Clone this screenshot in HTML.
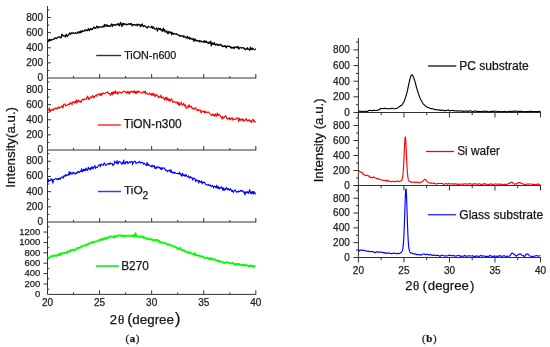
<!DOCTYPE html>
<html><head><meta charset="utf-8"><style>
html,body{margin:0;padding:0;background:#fff;}
svg{display:block;font-family:"Liberation Sans", sans-serif;filter:blur(0.3px);}
text{stroke:#222;stroke-width:0.25px;}
</style></head><body>
<svg width="550" height="347" viewBox="0 0 550 347">
<rect width="550" height="347" fill="#fff"/>
<line x1="47.5" y1="6.0" x2="47.5" y2="294.4" stroke="#333" stroke-width="1"/>
<line x1="47.5" y1="78.0" x2="256.3" y2="78.0" stroke="#333" stroke-width="1"/>
<line x1="73.54" y1="78.0" x2="73.54" y2="76" stroke="#333" stroke-width="1"/>
<line x1="99.58" y1="78.0" x2="99.58" y2="74" stroke="#333" stroke-width="1"/>
<line x1="125.61" y1="78.0" x2="125.61" y2="76" stroke="#333" stroke-width="1"/>
<line x1="151.65" y1="78.0" x2="151.65" y2="74" stroke="#333" stroke-width="1"/>
<line x1="177.69" y1="78.0" x2="177.69" y2="76" stroke="#333" stroke-width="1"/>
<line x1="203.72" y1="78.0" x2="203.72" y2="74" stroke="#333" stroke-width="1"/>
<line x1="229.76" y1="78.0" x2="229.76" y2="76" stroke="#333" stroke-width="1"/>
<line x1="255.8" y1="78.0" x2="255.8" y2="74" stroke="#333" stroke-width="1"/>
<line x1="47.5" y1="70.44" x2="49.3" y2="70.44" stroke="#333" stroke-width="1"/>
<line x1="47.5" y1="62.88" x2="50.9" y2="62.88" stroke="#333" stroke-width="1"/>
<line x1="47.5" y1="55.32" x2="49.3" y2="55.32" stroke="#333" stroke-width="1"/>
<line x1="47.5" y1="47.76" x2="50.9" y2="47.76" stroke="#333" stroke-width="1"/>
<line x1="47.5" y1="40.2" x2="49.3" y2="40.2" stroke="#333" stroke-width="1"/>
<line x1="47.5" y1="32.64" x2="50.9" y2="32.64" stroke="#333" stroke-width="1"/>
<line x1="47.5" y1="25.08" x2="49.3" y2="25.08" stroke="#333" stroke-width="1"/>
<line x1="47.5" y1="17.52" x2="50.9" y2="17.52" stroke="#333" stroke-width="1"/>
<line x1="47.5" y1="9.96" x2="49.3" y2="9.96" stroke="#333" stroke-width="1"/>
<text x="43" y="81" font-size="10" text-anchor="end" fill="#222">0</text>
<text x="43" y="65.88" font-size="10" text-anchor="end" fill="#222">200</text>
<text x="43" y="50.76" font-size="10" text-anchor="end" fill="#222">400</text>
<text x="43" y="35.64" font-size="10" text-anchor="end" fill="#222">600</text>
<text x="43" y="20.52" font-size="10" text-anchor="end" fill="#222">800</text>
<line x1="47.5" y1="150.0" x2="256.3" y2="150.0" stroke="#333" stroke-width="1"/>
<line x1="73.54" y1="150.0" x2="73.54" y2="148" stroke="#333" stroke-width="1"/>
<line x1="99.58" y1="150.0" x2="99.58" y2="146" stroke="#333" stroke-width="1"/>
<line x1="125.61" y1="150.0" x2="125.61" y2="148" stroke="#333" stroke-width="1"/>
<line x1="151.65" y1="150.0" x2="151.65" y2="146" stroke="#333" stroke-width="1"/>
<line x1="177.69" y1="150.0" x2="177.69" y2="148" stroke="#333" stroke-width="1"/>
<line x1="203.72" y1="150.0" x2="203.72" y2="146" stroke="#333" stroke-width="1"/>
<line x1="229.76" y1="150.0" x2="229.76" y2="148" stroke="#333" stroke-width="1"/>
<line x1="255.8" y1="150.0" x2="255.8" y2="146" stroke="#333" stroke-width="1"/>
<line x1="47.5" y1="142.44" x2="49.3" y2="142.44" stroke="#333" stroke-width="1"/>
<line x1="47.5" y1="134.88" x2="50.9" y2="134.88" stroke="#333" stroke-width="1"/>
<line x1="47.5" y1="127.32" x2="49.3" y2="127.32" stroke="#333" stroke-width="1"/>
<line x1="47.5" y1="119.76" x2="50.9" y2="119.76" stroke="#333" stroke-width="1"/>
<line x1="47.5" y1="112.2" x2="49.3" y2="112.2" stroke="#333" stroke-width="1"/>
<line x1="47.5" y1="104.64" x2="50.9" y2="104.64" stroke="#333" stroke-width="1"/>
<line x1="47.5" y1="97.08" x2="49.3" y2="97.08" stroke="#333" stroke-width="1"/>
<line x1="47.5" y1="89.52" x2="50.9" y2="89.52" stroke="#333" stroke-width="1"/>
<line x1="47.5" y1="81.96" x2="49.3" y2="81.96" stroke="#333" stroke-width="1"/>
<text x="43" y="153" font-size="10" text-anchor="end" fill="#222">0</text>
<text x="43" y="137.88" font-size="10" text-anchor="end" fill="#222">200</text>
<text x="43" y="122.76" font-size="10" text-anchor="end" fill="#222">400</text>
<text x="43" y="107.64" font-size="10" text-anchor="end" fill="#222">600</text>
<text x="43" y="92.52" font-size="10" text-anchor="end" fill="#222">800</text>
<line x1="47.5" y1="222.0" x2="256.3" y2="222.0" stroke="#333" stroke-width="1"/>
<line x1="73.54" y1="222.0" x2="73.54" y2="220" stroke="#333" stroke-width="1"/>
<line x1="99.58" y1="222.0" x2="99.58" y2="218" stroke="#333" stroke-width="1"/>
<line x1="125.61" y1="222.0" x2="125.61" y2="220" stroke="#333" stroke-width="1"/>
<line x1="151.65" y1="222.0" x2="151.65" y2="218" stroke="#333" stroke-width="1"/>
<line x1="177.69" y1="222.0" x2="177.69" y2="220" stroke="#333" stroke-width="1"/>
<line x1="203.72" y1="222.0" x2="203.72" y2="218" stroke="#333" stroke-width="1"/>
<line x1="229.76" y1="222.0" x2="229.76" y2="220" stroke="#333" stroke-width="1"/>
<line x1="255.8" y1="222.0" x2="255.8" y2="218" stroke="#333" stroke-width="1"/>
<line x1="47.5" y1="214.41" x2="49.3" y2="214.41" stroke="#333" stroke-width="1"/>
<line x1="47.5" y1="206.82" x2="50.9" y2="206.82" stroke="#333" stroke-width="1"/>
<line x1="47.5" y1="199.23" x2="49.3" y2="199.23" stroke="#333" stroke-width="1"/>
<line x1="47.5" y1="191.64" x2="50.9" y2="191.64" stroke="#333" stroke-width="1"/>
<line x1="47.5" y1="184.05" x2="49.3" y2="184.05" stroke="#333" stroke-width="1"/>
<line x1="47.5" y1="176.46" x2="50.9" y2="176.46" stroke="#333" stroke-width="1"/>
<line x1="47.5" y1="168.87" x2="49.3" y2="168.87" stroke="#333" stroke-width="1"/>
<line x1="47.5" y1="161.28" x2="50.9" y2="161.28" stroke="#333" stroke-width="1"/>
<line x1="47.5" y1="153.69" x2="49.3" y2="153.69" stroke="#333" stroke-width="1"/>
<text x="43" y="225" font-size="10" text-anchor="end" fill="#222">0</text>
<text x="43" y="209.82" font-size="10" text-anchor="end" fill="#222">200</text>
<text x="43" y="194.64" font-size="10" text-anchor="end" fill="#222">400</text>
<text x="43" y="179.46" font-size="10" text-anchor="end" fill="#222">600</text>
<text x="43" y="164.28" font-size="10" text-anchor="end" fill="#222">800</text>
<line x1="47.5" y1="294.4" x2="256.3" y2="294.4" stroke="#333" stroke-width="1"/>
<line x1="73.54" y1="294.4" x2="73.54" y2="292.4" stroke="#333" stroke-width="1"/>
<line x1="99.58" y1="294.4" x2="99.58" y2="290.4" stroke="#333" stroke-width="1"/>
<line x1="125.61" y1="294.4" x2="125.61" y2="292.4" stroke="#333" stroke-width="1"/>
<line x1="151.65" y1="294.4" x2="151.65" y2="290.4" stroke="#333" stroke-width="1"/>
<line x1="177.69" y1="294.4" x2="177.69" y2="292.4" stroke="#333" stroke-width="1"/>
<line x1="203.72" y1="294.4" x2="203.72" y2="290.4" stroke="#333" stroke-width="1"/>
<line x1="229.76" y1="294.4" x2="229.76" y2="292.4" stroke="#333" stroke-width="1"/>
<line x1="255.8" y1="294.4" x2="255.8" y2="290.4" stroke="#333" stroke-width="1"/>
<line x1="47.5" y1="289.2" x2="49.3" y2="289.2" stroke="#333" stroke-width="1"/>
<line x1="43.5" y1="284.01" x2="47.5" y2="284.01" stroke="#333" stroke-width="1"/>
<line x1="47.5" y1="278.81" x2="49.3" y2="278.81" stroke="#333" stroke-width="1"/>
<line x1="43.5" y1="273.62" x2="47.5" y2="273.62" stroke="#333" stroke-width="1"/>
<line x1="47.5" y1="268.42" x2="49.3" y2="268.42" stroke="#333" stroke-width="1"/>
<line x1="43.5" y1="263.22" x2="47.5" y2="263.22" stroke="#333" stroke-width="1"/>
<line x1="47.5" y1="258.03" x2="49.3" y2="258.03" stroke="#333" stroke-width="1"/>
<line x1="43.5" y1="252.83" x2="47.5" y2="252.83" stroke="#333" stroke-width="1"/>
<line x1="47.5" y1="247.64" x2="49.3" y2="247.64" stroke="#333" stroke-width="1"/>
<line x1="43.5" y1="242.44" x2="47.5" y2="242.44" stroke="#333" stroke-width="1"/>
<line x1="47.5" y1="237.24" x2="49.3" y2="237.24" stroke="#333" stroke-width="1"/>
<line x1="43.5" y1="232.05" x2="47.5" y2="232.05" stroke="#333" stroke-width="1"/>
<line x1="47.5" y1="226.85" x2="49.3" y2="226.85" stroke="#333" stroke-width="1"/>
<text x="40.4" y="297.2" font-size="9.5" text-anchor="end" fill="#222">0</text>
<text x="40.4" y="286.81" font-size="9.5" text-anchor="end" fill="#222">200</text>
<text x="40.4" y="276.42" font-size="9.5" text-anchor="end" fill="#222">400</text>
<text x="40.4" y="266.02" font-size="9.5" text-anchor="end" fill="#222">600</text>
<text x="40.4" y="255.63" font-size="9.5" text-anchor="end" fill="#222">800</text>
<text x="40.4" y="245.24" font-size="9.5" text-anchor="end" fill="#222">1000</text>
<text x="40.4" y="234.85" font-size="9.5" text-anchor="end" fill="#222">1200</text>
<text x="47.5" y="306" font-size="10" text-anchor="middle" fill="#222">20</text>
<text x="99.58" y="306" font-size="10" text-anchor="middle" fill="#222">25</text>
<text x="151.65" y="306" font-size="10" text-anchor="middle" fill="#222">30</text>
<text x="203.72" y="306" font-size="10" text-anchor="middle" fill="#222">35</text>
<text x="255.8" y="306" font-size="10" text-anchor="middle" fill="#222">40</text>
<polyline fill="none" stroke="#000" stroke-width="1.2" stroke-linejoin="round" points="47.50,41.28 48.10,41.48 48.70,40.85 49.30,39.26 49.90,40.94 50.50,40.34 51.10,39.31 51.70,40.06 52.30,39.68 52.90,39.43 53.50,39.02 54.10,39.27 54.70,38.00 55.30,38.30 55.90,37.85 56.50,38.60 57.10,37.95 57.70,37.49 58.30,36.90 58.90,37.17 59.50,37.22 60.10,36.80 60.70,37.95 61.30,37.52 61.90,34.18 62.50,34.69 63.10,35.96 63.70,35.57 64.30,35.92 64.90,35.74 65.50,37.18 66.10,34.25 66.70,34.71 67.30,36.59 67.90,35.24 68.50,35.10 69.10,33.94 69.70,32.83 70.30,34.23 70.90,34.04 71.50,32.77 72.10,33.11 72.70,33.50 73.30,32.63 73.90,33.23 74.50,33.27 75.10,33.10 75.70,32.52 76.30,33.33 76.90,33.46 77.50,32.85 78.10,31.75 78.70,32.94 79.30,31.77 79.90,32.81 80.50,31.02 81.10,32.58 81.70,31.64 82.30,30.46 82.90,31.11 83.50,31.28 84.10,31.32 84.70,30.10 85.30,29.83 85.90,30.78 86.50,30.05 87.10,30.47 87.70,30.74 88.30,28.51 88.90,29.95 89.50,30.59 90.10,29.11 90.70,28.49 91.30,29.64 91.90,29.03 92.50,29.40 93.10,28.17 93.70,27.04 94.30,28.04 94.90,27.60 95.50,28.48 96.10,27.84 96.70,26.15 97.30,26.38 97.90,28.02 98.50,27.72 99.10,26.48 99.70,26.91 100.30,27.18 100.90,27.10 101.50,27.34 102.10,26.72 102.70,26.34 103.30,26.11 103.90,27.15 104.50,24.26 105.10,25.97 105.70,26.04 106.30,24.73 106.90,26.15 107.50,25.24 108.10,26.45 108.70,25.54 109.30,26.14 109.90,26.53 110.50,25.74 111.10,24.60 111.70,23.97 112.30,26.67 112.90,25.01 113.50,24.44 114.10,25.07 114.70,24.71 115.30,25.53 115.90,24.77 116.50,24.69 117.10,24.01 117.70,24.97 118.30,23.66 118.90,25.07 119.50,25.77 120.10,23.16 120.70,22.34 121.30,24.95 121.90,26.59 122.50,23.57 123.10,23.36 123.70,24.92 124.30,23.71 124.90,24.00 125.50,24.14 126.10,24.90 126.70,24.11 127.30,24.70 127.90,24.33 128.50,23.77 129.10,24.23 129.70,23.71 130.30,24.55 130.90,23.61 131.50,23.67 132.10,25.87 132.70,24.62 133.30,24.67 133.90,25.19 134.50,24.45 135.10,24.67 135.70,25.29 136.30,25.23 136.90,24.07 137.50,25.83 138.10,24.68 138.70,24.36 139.30,24.57 139.90,25.08 140.50,26.87 141.10,24.57 141.70,25.79 142.30,23.92 142.90,25.83 143.50,26.69 144.10,25.82 144.70,25.59 145.30,26.42 145.90,26.93 146.50,27.00 147.10,28.23 147.70,26.84 148.30,26.28 148.90,26.79 149.50,26.96 150.10,27.23 150.70,27.24 151.30,27.54 151.90,26.10 152.50,28.36 153.10,27.30 153.70,26.93 154.30,28.60 154.90,29.33 155.50,28.77 156.10,28.64 156.70,27.86 157.30,31.24 157.90,29.71 158.50,28.15 159.10,28.62 159.70,29.52 160.30,28.30 160.90,29.94 161.50,29.58 162.10,31.19 162.70,31.15 163.30,28.21 163.90,30.74 164.50,29.53 165.10,32.04 165.70,31.43 166.30,31.95 166.90,30.78 167.50,33.43 168.10,33.79 168.70,31.36 169.30,32.78 169.90,32.08 170.50,32.83 171.10,31.96 171.70,34.82 172.30,32.60 172.90,33.36 173.50,34.22 174.10,33.43 174.70,33.97 175.30,33.88 175.90,34.43 176.50,33.73 177.10,34.54 177.70,34.92 178.30,35.00 178.90,35.51 179.50,35.39 180.10,36.46 180.70,35.73 181.30,36.07 181.90,35.79 182.50,36.09 183.10,35.64 183.70,37.33 184.30,36.09 184.90,36.61 185.50,37.72 186.10,37.93 186.70,37.42 187.30,36.22 187.90,38.46 188.50,38.50 189.10,37.25 189.70,39.27 190.30,38.19 190.90,38.01 191.50,39.22 192.10,39.15 192.70,39.65 193.30,38.28 193.90,41.36 194.50,39.47 195.10,38.84 195.70,40.84 196.30,40.17 196.90,40.90 197.50,40.49 198.10,40.87 198.70,41.27 199.30,40.56 199.90,41.90 200.50,41.04 201.10,40.82 201.70,41.73 202.30,42.15 202.90,41.68 203.50,41.24 204.10,42.59 204.70,40.67 205.30,41.38 205.90,42.38 206.50,41.29 207.10,42.56 207.70,42.59 208.30,43.51 208.90,42.07 209.50,42.43 210.10,43.36 210.70,41.11 211.30,45.96 211.90,42.87 212.50,42.98 213.10,44.47 213.70,43.85 214.30,42.52 214.90,44.72 215.50,45.06 216.10,44.10 216.70,44.38 217.30,45.18 217.90,44.13 218.50,45.41 219.10,45.33 219.70,44.71 220.30,44.22 220.90,45.33 221.50,44.88 222.10,46.58 222.70,45.96 223.30,46.60 223.90,46.14 224.50,46.34 225.10,45.54 225.70,46.86 226.30,47.90 226.90,46.20 227.50,46.05 228.10,46.50 228.70,46.31 229.30,46.21 229.90,47.01 230.50,46.72 231.10,48.28 231.70,47.14 232.30,47.50 232.90,48.11 233.50,47.13 234.10,48.69 234.70,47.01 235.30,46.94 235.90,47.39 236.50,47.68 237.10,46.66 237.70,47.90 238.30,46.58 238.90,49.24 239.50,48.06 240.10,47.64 240.70,47.48 241.30,47.98 241.90,48.17 242.50,47.53 243.10,47.69 243.70,48.36 244.30,48.13 244.90,49.42 245.50,49.63 246.10,48.72 246.70,49.16 247.30,47.67 247.90,49.39 248.50,48.86 249.10,49.34 249.70,50.34 250.30,47.08 250.90,49.28 251.50,48.17 252.10,49.65 252.70,48.07 253.30,48.80 253.90,49.44 254.50,49.83 255.10,49.41 255.70,48.71"/>
<polyline fill="none" stroke="#f00" stroke-width="1.1" stroke-linejoin="round" points="47.50,110.77 48.10,109.98 48.70,109.98 49.30,107.93 49.90,111.84 50.50,111.08 51.10,109.55 51.70,110.44 52.30,109.82 52.90,108.87 53.50,110.16 54.10,108.78 54.70,108.59 55.30,107.98 55.90,109.00 56.50,108.30 57.10,108.73 57.70,107.45 58.30,107.96 58.90,106.80 59.50,108.24 60.10,107.41 60.70,107.32 61.30,107.17 61.90,105.58 62.50,107.05 63.10,108.01 63.70,104.27 64.30,103.94 64.90,103.93 65.50,105.94 66.10,105.05 66.70,105.75 67.30,105.21 67.90,104.53 68.50,104.41 69.10,103.78 69.70,104.58 70.30,102.49 70.90,102.97 71.50,103.41 72.10,104.69 72.70,102.06 73.30,101.56 73.90,101.86 74.50,103.12 75.10,101.79 75.70,103.09 76.30,99.87 76.90,102.54 77.50,102.28 78.10,99.77 78.70,101.10 79.30,101.94 79.90,100.70 80.50,101.40 81.10,102.54 81.70,100.38 82.30,99.69 82.90,99.05 83.50,100.23 84.10,99.25 84.70,99.10 85.30,98.99 85.90,99.53 86.50,97.72 87.10,97.09 87.70,96.05 88.30,99.32 88.90,98.06 89.50,99.23 90.10,97.60 90.70,96.71 91.30,97.67 91.90,96.95 92.50,95.63 93.10,95.77 93.70,98.09 94.30,96.54 94.90,96.39 95.50,95.52 96.10,94.91 96.70,96.21 97.30,95.06 97.90,94.24 98.50,94.64 99.10,93.74 99.70,94.61 100.30,95.36 100.90,93.35 101.50,95.38 102.10,93.28 102.70,93.96 103.30,92.92 103.90,93.42 104.50,93.60 105.10,93.06 105.70,92.74 106.30,92.70 106.90,92.50 107.50,91.73 108.10,92.92 108.70,93.50 109.30,93.94 109.90,93.64 110.50,95.32 111.10,93.25 111.70,92.48 112.30,94.65 112.90,91.84 113.50,93.73 114.10,91.87 114.70,93.08 115.30,90.85 115.90,93.54 116.50,92.51 117.10,91.71 117.70,94.20 118.30,93.30 118.90,92.59 119.50,91.80 120.10,92.44 120.70,92.29 121.30,93.10 121.90,93.14 122.50,91.71 123.10,91.79 123.70,91.77 124.30,90.96 124.90,91.65 125.50,92.09 126.10,92.80 126.70,93.37 127.30,91.33 127.90,92.60 128.50,91.64 129.10,94.02 129.70,91.99 130.30,92.51 130.90,91.14 131.50,91.26 132.10,92.22 132.70,91.67 133.30,92.37 133.90,90.56 134.50,92.69 135.10,91.21 135.70,93.72 136.30,91.82 136.90,93.16 137.50,90.81 138.10,92.57 138.70,91.35 139.30,91.76 139.90,92.29 140.50,92.01 141.10,92.61 141.70,93.14 142.30,93.12 142.90,92.50 143.50,91.37 144.10,92.00 144.70,92.69 145.30,90.97 145.90,93.82 146.50,93.00 147.10,93.12 147.70,94.39 148.30,94.26 148.90,93.97 149.50,92.95 150.10,94.34 150.70,94.52 151.30,93.50 151.90,95.48 152.50,95.13 153.10,92.93 153.70,95.07 154.30,93.91 154.90,96.36 155.50,96.21 156.10,94.56 156.70,94.93 157.30,96.03 157.90,95.87 158.50,97.72 159.10,97.14 159.70,96.34 160.30,97.33 160.90,95.03 161.50,97.43 162.10,98.14 162.70,97.33 163.30,97.02 163.90,98.42 164.50,99.94 165.10,98.48 165.70,97.42 166.30,100.07 166.90,97.13 167.50,99.61 168.10,98.80 168.70,100.46 169.30,99.00 169.90,101.30 170.50,100.56 171.10,98.86 171.70,98.86 172.30,100.66 172.90,102.42 173.50,101.53 174.10,101.70 174.70,101.63 175.30,102.77 175.90,102.64 176.50,102.75 177.10,101.75 177.70,104.02 178.30,104.39 178.90,102.05 179.50,105.67 180.10,104.37 180.70,103.42 181.30,102.27 181.90,104.90 182.50,105.00 183.10,104.11 183.70,103.18 184.30,106.16 184.90,104.74 185.50,105.06 186.10,108.43 186.70,107.97 187.30,107.07 187.90,105.96 188.50,107.23 189.10,104.68 189.70,107.18 190.30,106.58 190.90,106.31 191.50,106.26 192.10,108.49 192.70,108.31 193.30,108.60 193.90,109.48 194.50,108.10 195.10,107.96 195.70,107.67 196.30,109.26 196.90,110.52 197.50,109.88 198.10,110.85 198.70,109.34 199.30,110.23 199.90,110.16 200.50,109.91 201.10,113.07 201.70,112.32 202.30,110.99 202.90,111.18 203.50,112.04 204.10,110.91 204.70,112.87 205.30,111.40 205.90,112.45 206.50,111.99 207.10,112.67 207.70,112.01 208.30,111.94 208.90,112.66 209.50,113.08 210.10,113.59 210.70,114.07 211.30,115.60 211.90,115.06 212.50,114.19 213.10,115.26 213.70,114.05 214.30,116.23 214.90,115.51 215.50,113.85 216.10,116.00 216.70,116.20 217.30,113.02 217.90,115.01 218.50,115.42 219.10,114.19 219.70,115.15 220.30,115.41 220.90,116.94 221.50,116.88 222.10,119.23 222.70,116.50 223.30,118.10 223.90,117.21 224.50,117.52 225.10,116.29 225.70,115.70 226.30,116.90 226.90,118.47 227.50,119.37 228.10,118.55 228.70,118.56 229.30,117.39 229.90,119.75 230.50,119.67 231.10,117.99 231.70,118.55 232.30,117.74 232.90,120.17 233.50,119.25 234.10,118.86 234.70,119.42 235.30,119.54 235.90,118.81 236.50,118.10 237.10,118.13 237.70,117.77 238.30,119.93 238.90,121.67 239.50,118.02 240.10,119.83 240.70,120.15 241.30,118.89 241.90,120.08 242.50,118.91 243.10,121.15 243.70,119.50 244.30,120.22 244.90,120.83 245.50,119.83 246.10,118.59 246.70,119.85 247.30,121.13 247.90,120.38 248.50,120.73 249.10,119.54 249.70,120.75 250.30,121.35 250.90,120.75 251.50,122.57 252.10,120.61 252.70,119.87 253.30,119.37 253.90,122.04 254.50,120.94 255.10,122.00 255.70,121.52"/>
<polyline fill="none" stroke="#00f" stroke-width="1.1" stroke-linejoin="round" points="47.50,183.43 48.10,178.91 48.70,181.58 49.30,180.49 49.90,180.44 50.50,180.51 51.10,178.65 51.70,180.20 52.30,179.45 52.90,183.28 53.50,180.20 54.10,179.51 54.70,179.43 55.30,178.93 55.90,178.41 56.50,178.90 57.10,179.56 57.70,178.70 58.30,179.65 58.90,178.33 59.50,178.30 60.10,179.48 60.70,178.24 61.30,176.93 61.90,176.93 62.50,177.30 63.10,178.31 63.70,175.91 64.30,175.65 64.90,176.57 65.50,174.53 66.10,174.86 66.70,175.77 67.30,175.28 67.90,174.63 68.50,175.01 69.10,171.52 69.70,175.02 70.30,172.99 70.90,172.17 71.50,173.88 72.10,174.15 72.70,172.94 73.30,172.21 73.90,173.13 74.50,172.92 75.10,174.18 75.70,173.42 76.30,172.76 76.90,173.49 77.50,172.09 78.10,171.26 78.70,172.55 79.30,172.40 79.90,171.49 80.50,170.79 81.10,171.59 81.70,168.84 82.30,171.70 82.90,171.34 83.50,169.15 84.10,170.59 84.70,169.44 85.30,170.90 85.90,168.06 86.50,168.94 87.10,170.29 87.70,170.53 88.30,167.18 88.90,168.56 89.50,169.15 90.10,168.06 90.70,169.95 91.30,167.10 91.90,168.37 92.50,166.84 93.10,168.97 93.70,167.42 94.30,166.89 94.90,165.42 95.50,168.46 96.10,167.39 96.70,167.20 97.30,167.39 97.90,166.46 98.50,165.35 99.10,165.04 99.70,164.88 100.30,166.79 100.90,163.95 101.50,164.63 102.10,164.75 102.70,165.14 103.30,165.34 103.90,163.49 104.50,162.91 105.10,164.43 105.70,165.48 106.30,164.94 106.90,164.32 107.50,163.71 108.10,164.19 108.70,163.58 109.30,164.50 109.90,162.88 110.50,163.67 111.10,163.35 111.70,163.89 112.30,163.50 112.90,165.63 113.50,164.56 114.10,164.48 114.70,161.05 115.30,162.59 115.90,162.27 116.50,163.30 117.10,160.57 117.70,163.80 118.30,163.65 118.90,161.36 119.50,161.63 120.10,161.77 120.70,162.54 121.30,163.09 121.90,164.40 122.50,162.25 123.10,163.14 123.70,160.05 124.30,164.06 124.90,163.08 125.50,163.66 126.10,161.32 126.70,162.16 127.30,161.56 127.90,163.76 128.50,162.95 129.10,162.03 129.70,161.89 130.30,162.78 130.90,161.66 131.50,161.45 132.10,161.30 132.70,164.70 133.30,162.14 133.90,161.87 134.50,161.30 135.10,161.17 135.70,162.97 136.30,163.31 136.90,162.54 137.50,162.89 138.10,162.72 138.70,162.79 139.30,161.26 139.90,162.34 140.50,162.95 141.10,162.18 141.70,162.56 142.30,162.33 142.90,162.91 143.50,164.15 144.10,163.09 144.70,163.47 145.30,164.53 145.90,164.52 146.50,165.67 147.10,162.23 147.70,165.19 148.30,164.08 148.90,164.82 149.50,165.65 150.10,166.04 150.70,166.16 151.30,165.48 151.90,167.01 152.50,165.37 153.10,165.67 153.70,166.72 154.30,165.60 154.90,168.34 155.50,167.42 156.10,168.69 156.70,166.76 157.30,166.59 157.90,167.29 158.50,168.00 159.10,166.92 159.70,168.02 160.30,167.82 160.90,169.55 161.50,167.57 162.10,169.38 162.70,167.97 163.30,167.86 163.90,168.30 164.50,168.04 165.10,169.52 165.70,170.57 166.30,169.97 166.90,170.62 167.50,171.81 168.10,170.74 168.70,170.90 169.30,170.69 169.90,169.65 170.50,172.13 171.10,169.97 171.70,172.49 172.30,172.08 172.90,173.38 173.50,172.46 174.10,171.95 174.70,173.27 175.30,172.59 175.90,173.14 176.50,173.53 177.10,173.54 177.70,173.66 178.30,173.21 178.90,173.99 179.50,172.30 180.10,174.34 180.70,173.51 181.30,175.87 181.90,176.17 182.50,173.27 183.10,175.43 183.70,175.34 184.30,174.64 184.90,176.32 185.50,175.56 186.10,174.50 186.70,176.12 187.30,176.43 187.90,176.87 188.50,175.80 189.10,177.76 189.70,178.08 190.30,176.50 190.90,177.18 191.50,177.94 192.10,177.70 192.70,180.12 193.30,178.88 193.90,177.95 194.50,178.39 195.10,179.31 195.70,181.78 196.30,179.66 196.90,180.19 197.50,180.79 198.10,180.51 198.70,182.96 199.30,180.53 199.90,181.98 200.50,181.67 201.10,182.35 201.70,180.88 202.30,183.92 202.90,182.36 203.50,182.73 204.10,182.04 204.70,182.46 205.30,183.91 205.90,184.52 206.50,184.51 207.10,185.16 207.70,184.89 208.30,184.44 208.90,185.41 209.50,185.37 210.10,184.91 210.70,185.88 211.30,186.60 211.90,185.79 212.50,185.41 213.10,186.61 213.70,187.91 214.30,186.08 214.90,186.36 215.50,186.48 216.10,187.94 216.70,185.20 217.30,187.45 217.90,188.39 218.50,186.64 219.10,188.98 219.70,188.23 220.30,187.35 220.90,188.21 221.50,186.71 222.10,187.77 222.70,190.19 223.30,187.75 223.90,190.50 224.50,188.81 225.10,189.98 225.70,189.22 226.30,187.19 226.90,188.92 227.50,189.79 228.10,188.66 228.70,188.62 229.30,190.39 229.90,189.56 230.50,188.70 231.10,189.79 231.70,191.38 232.30,190.23 232.90,191.69 233.50,192.36 234.10,191.03 234.70,190.02 235.30,189.95 235.90,191.24 236.50,192.18 237.10,191.67 237.70,192.00 238.30,191.12 238.90,191.89 239.50,191.21 240.10,191.41 240.70,190.54 241.30,190.32 241.90,191.41 242.50,190.86 243.10,191.05 243.70,192.64 244.30,191.94 244.90,194.85 245.50,193.01 246.10,191.57 246.70,192.95 247.30,192.58 247.90,191.63 248.50,193.37 249.10,191.62 249.70,189.48 250.30,193.18 250.90,191.87 251.50,193.90 252.10,191.90 252.70,191.43 253.30,194.05 253.90,191.59 254.50,192.83 255.10,194.05 255.70,192.81"/>
<polyline fill="none" stroke="#0f0" stroke-width="1.8" stroke-linejoin="round" points="47.50,257.50 48.30,257.48 49.10,258.07 49.90,257.38 50.70,256.11 51.50,256.61 52.30,256.10 53.10,256.22 53.90,255.20 54.70,255.81 55.50,255.59 56.30,255.97 57.10,255.19 57.90,255.06 58.70,253.95 59.50,255.42 60.30,253.33 61.10,254.47 61.90,253.61 62.70,253.14 63.50,253.01 64.30,252.77 65.10,253.00 65.90,252.54 66.70,253.00 67.50,251.25 68.30,251.80 69.10,251.13 69.90,251.60 70.70,250.02 71.50,250.53 72.30,250.49 73.10,249.43 73.90,250.24 74.70,249.57 75.50,249.63 76.30,249.30 77.10,248.11 77.90,247.87 78.70,247.81 79.50,247.91 80.30,247.62 81.10,246.59 81.90,246.31 82.70,245.89 83.50,245.66 84.30,245.49 85.10,245.21 85.90,245.88 86.70,244.41 87.50,244.19 88.30,244.21 89.10,243.26 89.90,243.22 90.70,243.08 91.50,243.13 92.30,241.89 93.10,242.81 93.90,241.75 94.70,241.71 95.50,241.75 96.30,241.40 97.10,241.32 97.90,240.67 98.70,240.33 99.50,240.24 100.30,239.41 101.10,240.16 101.90,239.04 102.70,238.59 103.50,239.85 104.30,238.64 105.10,237.95 105.90,239.09 106.70,237.90 107.50,238.32 108.30,237.27 109.10,237.35 109.90,236.53 110.70,236.27 111.50,236.54 112.30,236.81 113.10,237.07 113.90,237.68 114.70,236.01 115.50,236.83 116.30,236.01 117.10,236.12 117.90,235.44 118.70,235.37 119.50,235.62 120.30,235.37 121.10,235.85 121.90,235.48 122.70,236.32 123.50,235.78 124.30,235.75 125.10,236.15 125.90,235.84 126.70,235.57 127.50,235.53 128.30,235.50 129.10,236.04 129.90,235.91 130.70,235.75 131.50,235.98 132.30,235.42 133.10,235.95 133.90,235.16 134.70,236.48 135.50,233.21 136.30,236.16 137.10,236.45 137.90,236.30 138.70,236.31 139.50,237.08 140.30,236.73 141.10,236.41 141.90,237.16 142.70,236.35 143.50,238.02 144.30,237.37 145.10,237.65 145.90,238.82 146.70,238.96 147.50,238.24 148.30,238.67 149.10,239.08 149.90,239.55 150.70,238.94 151.50,239.27 152.30,239.98 153.10,239.77 153.90,240.22 154.70,240.38 155.50,239.83 156.30,240.19 157.10,239.63 157.90,240.94 158.70,241.91 159.50,241.05 160.30,242.36 161.10,242.50 161.90,242.28 162.70,242.55 163.50,242.85 164.30,242.68 165.10,243.21 165.90,243.58 166.70,244.14 167.50,244.50 168.30,244.09 169.10,245.08 169.90,244.65 170.70,245.22 171.50,245.76 172.30,245.89 173.10,246.16 173.90,246.65 174.70,246.60 175.50,246.88 176.30,247.41 177.10,248.26 177.90,248.10 178.70,249.33 179.50,248.88 180.30,247.77 181.10,249.22 181.90,250.48 182.70,250.05 183.50,250.16 184.30,250.27 185.10,251.56 185.90,251.72 186.70,251.87 187.50,252.06 188.30,252.82 189.10,252.83 189.90,252.20 190.70,253.39 191.50,253.41 192.30,253.57 193.10,254.25 193.90,254.20 194.70,253.14 195.50,255.44 196.30,255.47 197.10,255.21 197.90,255.35 198.70,255.87 199.50,255.43 200.30,256.38 201.10,256.37 201.90,256.53 202.70,256.49 203.50,256.80 204.30,257.81 205.10,258.11 205.90,257.93 206.70,257.88 207.50,257.70 208.30,258.62 209.10,259.21 209.90,257.96 210.70,259.42 211.50,258.11 212.30,259.14 213.10,259.67 213.90,259.08 214.70,259.22 215.50,260.19 216.30,260.70 217.10,260.28 217.90,261.30 218.70,260.53 219.50,261.86 220.30,261.30 221.10,261.53 221.90,261.88 222.70,261.92 223.50,262.78 224.30,263.10 225.10,262.52 225.90,262.36 226.70,262.06 227.50,262.40 228.30,262.89 229.10,262.98 229.90,263.14 230.70,263.30 231.50,263.65 232.30,262.94 233.10,263.21 233.90,264.30 234.70,264.29 235.50,263.78 236.30,264.71 237.10,263.93 237.90,264.22 238.70,263.61 239.50,264.90 240.30,264.61 241.10,265.18 241.90,265.10 242.70,264.90 243.50,265.00 244.30,265.54 245.10,265.00 245.90,265.08 246.70,265.25 247.50,265.65 248.30,265.78 249.10,266.30 249.90,265.47 250.70,266.15 251.50,265.37 252.30,266.01 253.10,265.88 253.90,266.68 254.70,266.26 255.50,265.86"/>
<line x1="96.2" y1="55.5" x2="121.2" y2="55.5" stroke="#333" stroke-width="1.4"/>
<text x="124.16" y="58.8" font-size="11" fill="#111" textLength="52.16" lengthAdjust="spacingAndGlyphs">TiON-n600</text>
<line x1="97.8" y1="125" x2="120.8" y2="125" stroke="#ff5c5c" stroke-width="1.9"/>
<text x="123.83" y="128.4" font-size="12" fill="#111" textLength="57.93" lengthAdjust="spacingAndGlyphs">TiON-n300</text>
<line x1="97.9" y1="191.5" x2="121" y2="191.5" stroke="#3a3aff" stroke-width="1.5"/>
<text x="123.94" y="194.4" font-size="11.7" fill="#111" textLength="18.82" lengthAdjust="spacingAndGlyphs">TiO</text>
<text x="142.58" y="199.3" font-size="10.3" fill="#111">2</text>
<line x1="95.8" y1="266.1" x2="118.8" y2="266.1" stroke="#33ee44" stroke-width="2"/>
<text x="121.23" y="269.8" font-size="12" fill="#111" textLength="27.63" lengthAdjust="spacingAndGlyphs">B270</text>
<text transform="translate(14.5,187.63) rotate(-90)" font-size="12.5" fill="#111" textLength="80.65" lengthAdjust="spacingAndGlyphs">Intensity(a.u.)</text>
<text x="109.85" y="323.8" font-size="13" fill="#111">2</text>
<text x="117.99" y="323.9" font-size="13" font-family="Liberation Serif" fill="#111">θ</text>
<text x="127.14" y="324.1" font-size="15.5" fill="#111">(</text>
<text x="132.34" y="324.0" font-size="13" fill="#111" textLength="41.66" lengthAdjust="spacingAndGlyphs">degree</text>
<text x="175.10" y="323.8" font-size="16.5" fill="#111">)</text>
<text x="125.6" y="342.3" font-size="10.8" font-family="Liberation Serif" fill="#111">(</text>
<text x="129.7" y="342.3" font-size="10.8" font-family="Liberation Serif" font-weight="bold" fill="#111">a</text>
<text x="135.7" y="342.3" font-size="10.8" font-family="Liberation Serif" fill="#111">)</text>
<line x1="358.4" y1="38.0" x2="358.4" y2="257.5" stroke="#333" stroke-width="1"/>
<line x1="358.4" y1="112.5" x2="541" y2="112.5" stroke="#333" stroke-width="1"/>
<line x1="358.4" y1="112.5" x2="358.4" y2="117.5" stroke="#333" stroke-width="1"/>
<line x1="381.16" y1="112.5" x2="381.16" y2="115.2" stroke="#333" stroke-width="1"/>
<line x1="403.92" y1="112.5" x2="403.92" y2="117.5" stroke="#333" stroke-width="1"/>
<line x1="426.69" y1="112.5" x2="426.69" y2="115.2" stroke="#333" stroke-width="1"/>
<line x1="449.45" y1="112.5" x2="449.45" y2="117.5" stroke="#333" stroke-width="1"/>
<line x1="472.21" y1="112.5" x2="472.21" y2="115.2" stroke="#333" stroke-width="1"/>
<line x1="494.98" y1="112.5" x2="494.98" y2="117.5" stroke="#333" stroke-width="1"/>
<line x1="517.74" y1="112.5" x2="517.74" y2="115.2" stroke="#333" stroke-width="1"/>
<line x1="540.5" y1="112.5" x2="540.5" y2="117.5" stroke="#333" stroke-width="1"/>
<line x1="353.4" y1="112.5" x2="358.4" y2="112.5" stroke="#333" stroke-width="1"/>
<line x1="356" y1="104.67" x2="358.4" y2="104.67" stroke="#333" stroke-width="1"/>
<line x1="353.4" y1="96.85" x2="358.4" y2="96.85" stroke="#333" stroke-width="1"/>
<line x1="356" y1="89.03" x2="358.4" y2="89.03" stroke="#333" stroke-width="1"/>
<line x1="353.4" y1="81.2" x2="358.4" y2="81.2" stroke="#333" stroke-width="1"/>
<line x1="356" y1="73.38" x2="358.4" y2="73.38" stroke="#333" stroke-width="1"/>
<line x1="353.4" y1="65.55" x2="358.4" y2="65.55" stroke="#333" stroke-width="1"/>
<line x1="356" y1="57.73" x2="358.4" y2="57.73" stroke="#333" stroke-width="1"/>
<line x1="353.4" y1="49.9" x2="358.4" y2="49.9" stroke="#333" stroke-width="1"/>
<line x1="356" y1="42.08" x2="358.4" y2="42.08" stroke="#333" stroke-width="1"/>
<text x="349.8" y="115.8" font-size="10" text-anchor="end" fill="#222">0</text>
<text x="349.8" y="100.15" font-size="10" text-anchor="end" fill="#222">200</text>
<text x="349.8" y="84.5" font-size="10" text-anchor="end" fill="#222">400</text>
<text x="349.8" y="68.85" font-size="10" text-anchor="end" fill="#222">600</text>
<text x="349.8" y="53.2" font-size="10" text-anchor="end" fill="#222">800</text>
<line x1="358.4" y1="185.5" x2="541" y2="185.5" stroke="#333" stroke-width="1"/>
<line x1="358.4" y1="185.5" x2="358.4" y2="190.5" stroke="#333" stroke-width="1"/>
<line x1="381.16" y1="185.5" x2="381.16" y2="188.2" stroke="#333" stroke-width="1"/>
<line x1="403.92" y1="185.5" x2="403.92" y2="190.5" stroke="#333" stroke-width="1"/>
<line x1="426.69" y1="185.5" x2="426.69" y2="188.2" stroke="#333" stroke-width="1"/>
<line x1="449.45" y1="185.5" x2="449.45" y2="190.5" stroke="#333" stroke-width="1"/>
<line x1="472.21" y1="185.5" x2="472.21" y2="188.2" stroke="#333" stroke-width="1"/>
<line x1="494.98" y1="185.5" x2="494.98" y2="190.5" stroke="#333" stroke-width="1"/>
<line x1="517.74" y1="185.5" x2="517.74" y2="188.2" stroke="#333" stroke-width="1"/>
<line x1="540.5" y1="185.5" x2="540.5" y2="190.5" stroke="#333" stroke-width="1"/>
<line x1="353.4" y1="185.5" x2="358.4" y2="185.5" stroke="#333" stroke-width="1"/>
<line x1="356" y1="178" x2="358.4" y2="178" stroke="#333" stroke-width="1"/>
<line x1="353.4" y1="170.5" x2="358.4" y2="170.5" stroke="#333" stroke-width="1"/>
<line x1="356" y1="163" x2="358.4" y2="163" stroke="#333" stroke-width="1"/>
<line x1="353.4" y1="155.5" x2="358.4" y2="155.5" stroke="#333" stroke-width="1"/>
<line x1="356" y1="148" x2="358.4" y2="148" stroke="#333" stroke-width="1"/>
<line x1="353.4" y1="140.5" x2="358.4" y2="140.5" stroke="#333" stroke-width="1"/>
<line x1="356" y1="133" x2="358.4" y2="133" stroke="#333" stroke-width="1"/>
<line x1="353.4" y1="125.5" x2="358.4" y2="125.5" stroke="#333" stroke-width="1"/>
<line x1="356" y1="118" x2="358.4" y2="118" stroke="#333" stroke-width="1"/>
<text x="349.8" y="188.8" font-size="10" text-anchor="end" fill="#222">0</text>
<text x="349.8" y="173.8" font-size="10" text-anchor="end" fill="#222">200</text>
<text x="349.8" y="158.8" font-size="10" text-anchor="end" fill="#222">400</text>
<text x="349.8" y="143.8" font-size="10" text-anchor="end" fill="#222">600</text>
<text x="349.8" y="128.8" font-size="10" text-anchor="end" fill="#222">800</text>
<line x1="358.4" y1="257.5" x2="541" y2="257.5" stroke="#333" stroke-width="1"/>
<line x1="358.4" y1="257.5" x2="358.4" y2="262.5" stroke="#333" stroke-width="1"/>
<line x1="381.16" y1="257.5" x2="381.16" y2="260.2" stroke="#333" stroke-width="1"/>
<line x1="403.92" y1="257.5" x2="403.92" y2="262.5" stroke="#333" stroke-width="1"/>
<line x1="426.69" y1="257.5" x2="426.69" y2="260.2" stroke="#333" stroke-width="1"/>
<line x1="449.45" y1="257.5" x2="449.45" y2="262.5" stroke="#333" stroke-width="1"/>
<line x1="472.21" y1="257.5" x2="472.21" y2="260.2" stroke="#333" stroke-width="1"/>
<line x1="494.98" y1="257.5" x2="494.98" y2="262.5" stroke="#333" stroke-width="1"/>
<line x1="517.74" y1="257.5" x2="517.74" y2="260.2" stroke="#333" stroke-width="1"/>
<line x1="540.5" y1="257.5" x2="540.5" y2="262.5" stroke="#333" stroke-width="1"/>
<line x1="353.4" y1="257.5" x2="358.4" y2="257.5" stroke="#333" stroke-width="1"/>
<line x1="356" y1="250.09" x2="358.4" y2="250.09" stroke="#333" stroke-width="1"/>
<line x1="353.4" y1="242.68" x2="358.4" y2="242.68" stroke="#333" stroke-width="1"/>
<line x1="356" y1="235.27" x2="358.4" y2="235.27" stroke="#333" stroke-width="1"/>
<line x1="353.4" y1="227.86" x2="358.4" y2="227.86" stroke="#333" stroke-width="1"/>
<line x1="356" y1="220.45" x2="358.4" y2="220.45" stroke="#333" stroke-width="1"/>
<line x1="353.4" y1="213.04" x2="358.4" y2="213.04" stroke="#333" stroke-width="1"/>
<line x1="356" y1="205.63" x2="358.4" y2="205.63" stroke="#333" stroke-width="1"/>
<line x1="353.4" y1="198.22" x2="358.4" y2="198.22" stroke="#333" stroke-width="1"/>
<line x1="356" y1="190.81" x2="358.4" y2="190.81" stroke="#333" stroke-width="1"/>
<text x="349.8" y="260.8" font-size="10" text-anchor="end" fill="#222">0</text>
<text x="349.8" y="245.98" font-size="10" text-anchor="end" fill="#222">200</text>
<text x="349.8" y="231.16" font-size="10" text-anchor="end" fill="#222">400</text>
<text x="349.8" y="216.34" font-size="10" text-anchor="end" fill="#222">600</text>
<text x="349.8" y="201.52" font-size="10" text-anchor="end" fill="#222">800</text>
<text x="358.4" y="274" font-size="10" text-anchor="middle" fill="#222">20</text>
<text x="403.92" y="274" font-size="10" text-anchor="middle" fill="#222">25</text>
<text x="449.45" y="274" font-size="10" text-anchor="middle" fill="#222">30</text>
<text x="494.98" y="274" font-size="10" text-anchor="middle" fill="#222">35</text>
<text x="540.5" y="274" font-size="10" text-anchor="middle" fill="#222">40</text>
<polyline fill="none" stroke="#000" stroke-width="1.15" stroke-linejoin="round" points="358.40,111.40 358.86,111.25 359.31,111.11 359.77,111.09 360.22,111.10 360.68,111.21 361.13,111.40 361.59,111.49 362.04,111.47 362.50,111.45 362.95,111.47 363.41,111.49 363.86,111.37 364.32,111.25 364.77,111.28 365.23,111.34 365.68,111.31 366.14,111.22 366.59,111.27 367.05,111.54 367.51,111.69 367.96,111.13 368.42,110.57 368.87,110.55 369.33,110.53 369.78,110.49 370.24,110.41 370.69,110.42 371.15,110.50 371.60,110.56 372.06,110.57 372.51,110.57 372.97,110.47 373.42,110.37 373.88,110.33 374.33,110.28 374.79,110.35 375.24,110.45 375.70,110.48 376.15,110.46 376.61,110.41 377.07,110.31 377.52,110.26 377.98,110.15 378.43,110.04 378.89,109.83 379.34,109.62 379.80,109.19 380.25,108.70 380.71,108.41 381.16,108.50 381.62,108.60 382.07,108.70 382.53,108.76 382.98,108.62 383.44,108.47 383.89,108.40 384.35,108.34 384.80,108.36 385.26,108.40 385.72,108.42 386.17,108.61 386.63,108.72 387.08,108.72 387.54,108.72 387.99,108.78 388.45,108.63 388.90,108.69 389.36,108.75 389.81,108.76 390.27,108.74 390.72,108.62 391.18,108.42 391.63,108.25 392.09,108.13 392.54,108.25 393.00,108.49 393.45,108.71 393.91,108.73 394.36,108.74 394.82,108.77 395.28,108.65 395.73,108.53 396.19,108.47 396.64,108.37 397.10,108.22 397.55,108.01 397.55,108.01 397.64,107.94 397.73,107.86 397.82,107.79 397.92,107.71 398.01,107.64 398.01,107.64 398.10,107.56 398.19,107.48 398.28,107.40 398.37,107.32 398.46,107.24 398.46,107.24 398.55,107.18 398.64,107.13 398.74,107.07 398.83,107.01 398.92,106.95 398.92,106.95 399.01,106.91 399.10,106.86 399.19,106.81 399.28,106.76 399.37,106.71 399.37,106.71 399.46,106.66 399.55,106.59 399.65,106.51 399.74,106.44 399.83,106.36 399.83,106.36 399.92,106.28 400.01,106.20 400.10,106.12 400.19,106.04 400.28,105.95 400.28,105.95 400.37,105.87 400.47,105.78 400.56,105.76 400.65,105.73 400.74,105.71 400.74,105.71 400.83,105.68 400.92,105.65 401.01,105.62 401.10,105.59 401.19,105.55 401.19,105.55 401.28,105.51 401.38,105.47 401.47,105.43 401.56,105.32 401.65,105.21 401.65,105.21 401.74,105.10 401.83,104.98 401.92,104.86 402.01,104.74 402.10,104.61 402.10,104.61 402.20,104.49 402.29,104.36 402.38,104.22 402.47,104.09 402.56,103.96 402.56,103.96 402.65,103.84 402.74,103.71 402.83,103.57 402.92,103.44 403.01,103.30 403.01,103.30 403.11,103.15 403.20,103.00 403.29,102.85 403.38,102.70 403.47,102.54 403.47,102.54 403.56,102.39 403.65,102.24 403.74,102.08 403.83,101.92 403.93,101.76 403.93,101.76 404.02,101.59 404.11,101.42 404.20,101.24 404.29,101.06 404.38,100.87 404.38,100.87 404.47,100.68 404.56,100.42 404.65,100.16 404.74,99.89 404.84,99.62 404.84,99.62 404.93,99.35 405.02,99.07 405.11,98.78 405.20,98.49 405.29,98.19 405.29,98.19 405.38,97.89 405.47,97.58 405.56,97.30 405.65,97.01 405.75,96.72 405.75,96.72 405.84,96.42 405.93,96.11 406.02,95.80 406.11,95.49 406.20,95.17 406.20,95.17 406.29,94.84 406.38,94.51 406.47,94.17 406.57,93.86 406.66,93.55 406.66,93.55 406.75,93.23 406.84,92.90 406.93,92.57 407.02,92.24 407.11,91.90 407.11,91.90 407.20,91.55 407.29,91.20 407.38,90.85 407.48,90.49 407.57,90.05 407.57,90.05 407.66,89.61 407.75,89.16 407.84,88.71 407.93,88.26 408.02,87.80 408.02,87.80 408.11,87.34 408.20,86.88 408.30,86.42 408.39,85.95 408.48,85.48 408.48,85.48 408.57,85.07 408.66,84.66 408.75,84.24 408.84,83.83 408.93,83.42 408.93,83.42 409.02,83.01 409.11,82.60 409.21,82.19 409.30,81.79 409.39,81.39 409.39,81.39 409.48,81.00 409.57,80.60 409.66,80.21 409.75,79.83 409.84,79.46 409.84,79.46 409.93,79.09 410.03,78.74 410.12,78.39 410.21,78.06 410.30,77.74 410.30,77.74 410.39,77.43 410.48,77.13 410.57,76.86 410.66,76.59 410.75,76.35 410.75,76.35 410.84,76.12 410.94,75.91 411.03,75.72 411.12,75.54 411.21,75.39 411.21,75.39 411.30,75.26 411.39,75.15 411.48,75.06 411.57,74.98 411.66,74.92 411.66,74.92 411.76,74.88 411.85,74.86 411.94,74.86 412.03,74.87 412.12,74.90 412.12,74.90 412.21,74.94 412.30,74.98 412.39,75.05 412.48,75.12 412.57,75.27 412.57,75.27 412.67,75.43 412.76,75.60 412.85,75.79 412.94,75.98 413.03,76.19 413.03,76.19 413.12,76.41 413.21,76.64 413.30,76.88 413.39,77.13 413.49,77.40 413.49,77.40 413.58,77.58 413.67,77.77 413.76,77.96 413.85,78.17 413.94,78.39 413.94,78.39 414.03,78.61 414.12,78.84 414.21,79.07 414.30,79.32 414.40,79.56 414.40,79.56 414.49,79.82 414.58,80.12 414.67,80.42 414.76,80.73 414.85,81.05 414.85,81.05 414.94,81.36 415.03,81.68 415.12,82.01 415.22,82.33 415.31,82.66 415.31,82.66 415.40,82.99 415.49,83.32 415.58,83.70 415.67,84.09 415.76,84.47 415.76,84.47 415.85,84.85 415.94,85.24 416.03,85.62 416.13,86.01 416.22,86.39 416.22,86.39 416.31,86.77 416.40,87.16 416.49,87.54 416.58,87.82 416.67,88.10 416.67,88.10 416.76,88.38 416.85,88.66 416.95,88.94 417.04,89.21 417.13,89.48 417.13,89.48 417.22,89.75 417.31,90.02 417.40,90.29 417.49,90.55 417.58,90.87 417.58,90.87 417.67,91.18 417.76,91.49 417.86,91.80 417.95,92.11 418.04,92.41 418.04,92.41 418.13,92.71 418.22,93.00 418.31,93.30 418.40,93.59 418.49,93.87 418.49,93.87 418.58,94.12 418.68,94.37 418.77,94.61 418.86,94.85 418.95,95.08 418.95,95.08 419.04,95.31 419.13,95.54 419.22,95.77 419.31,95.99 419.40,96.21 419.40,96.21 419.49,96.42 419.59,96.68 419.68,96.94 419.77,97.19 419.86,97.44 419.86,97.44 419.95,97.68 420.04,97.93 420.13,98.16 420.22,98.40 420.31,98.63 420.31,98.63 420.41,98.86 420.50,99.09 420.59,99.28 420.68,99.46 420.77,99.64 420.77,99.64 420.86,99.82 420.95,100.00 421.04,100.17 421.13,100.34 421.22,100.50 421.22,100.50 421.32,100.67 421.41,100.83 421.50,100.99 421.59,101.14 421.68,101.30 421.68,101.30 421.77,101.45 421.86,101.59 421.95,101.74 422.04,101.88 422.14,102.02 422.59,102.71 423.05,103.48 423.50,104.19 423.96,104.56 424.41,104.88 424.87,105.35 425.32,105.82 425.78,106.17 426.23,106.44 426.69,106.74 427.14,107.12 427.60,107.43 428.05,107.48 428.51,107.52 428.96,107.77 429.42,108.00 429.87,108.24 430.33,108.47 430.78,108.60 431.24,108.64 431.70,108.69 432.15,108.74 432.61,108.78 433.06,108.82 433.52,108.86 433.97,109.31 434.43,109.75 434.88,109.68 435.34,109.49 435.79,109.47 436.25,109.58 436.70,109.69 437.16,109.80 437.61,109.92 438.07,110.06 438.52,110.21 438.98,110.01 439.43,109.81 439.89,110.01 440.35,110.32 440.80,110.34 441.26,110.18 441.71,110.06 442.17,110.01 442.62,110.04 443.08,110.37 443.53,110.71 443.99,110.59 444.44,110.47 444.90,110.55 445.35,110.68 445.81,110.64 446.26,110.49 446.72,110.35 447.17,110.23 447.63,110.13 448.08,110.09 448.54,110.05 448.99,110.46 449.45,110.88 449.91,110.88 450.36,110.78 450.82,110.67 451.27,110.56 451.73,110.46 452.18,110.39 452.64,110.36 453.09,110.50 453.55,110.65 454.00,110.79 454.46,110.93 454.91,110.89 455.37,110.79 455.82,110.79 456.28,110.84 456.73,110.88 457.19,110.92 457.64,110.96 458.10,111.04 458.56,111.11 459.01,111.01 459.47,110.90 459.92,110.90 460.38,110.92 460.83,110.97 461.29,111.02 461.74,111.07 462.20,111.09 462.65,111.14 463.11,111.27 463.56,111.39 464.02,111.32 464.47,111.25 464.93,111.10 465.38,110.93 465.84,110.96 466.29,111.12 466.75,111.28 467.20,111.42 467.66,111.48 468.12,111.19 468.57,110.91 469.03,111.01 469.48,111.10 469.94,111.00 470.39,110.84 470.85,110.91 471.30,111.14 471.76,111.30 472.21,111.37 472.67,111.45 473.12,111.56 473.58,111.67 474.03,111.38 474.49,111.09 474.94,110.93 475.40,110.80 475.85,110.96 476.31,111.33 476.77,111.54 477.22,111.53 477.68,111.49 478.13,111.36 478.59,111.23 479.04,111.39 479.50,111.54 479.95,111.53 480.41,111.47 480.86,111.46 481.32,111.47 481.77,111.45 482.23,111.40 482.68,111.34 483.14,111.24 483.59,111.15 484.05,111.27 484.50,111.38 484.96,111.33 485.41,111.24 485.87,111.29 486.33,111.43 486.78,111.49 487.24,111.41 487.69,111.40 488.15,111.67 488.60,111.93 489.06,111.86 489.51,111.79 489.97,111.59 490.42,111.35 490.88,111.34 491.33,111.49 491.79,111.53 492.24,111.41 492.70,111.31 493.15,111.32 493.61,111.32 494.06,111.24 494.52,111.16 494.98,111.19 495.43,111.25 495.89,111.26 496.34,111.24 496.80,111.27 497.25,111.39 497.71,111.50 498.16,111.57 498.62,111.63 499.07,111.64 499.53,111.64 499.98,111.62 500.44,111.60 500.89,111.63 501.35,111.70 501.80,111.72 502.26,111.66 502.71,111.60 503.17,111.55 503.62,111.50 504.08,111.47 504.54,111.43 504.99,111.48 505.45,111.54 505.90,111.67 506.36,111.84 506.81,111.86 507.27,111.67 507.72,111.50 508.18,111.47 508.63,111.44 509.09,111.35 509.54,111.26 510.00,111.29 510.45,111.34 510.91,111.45 511.36,111.58 511.82,111.66 512.27,111.67 512.73,111.62 513.19,111.33 513.64,111.04 514.10,111.17 514.55,111.31 515.01,111.24 515.46,111.13 515.92,111.07 516.37,111.04 516.83,111.14 517.28,111.46 517.74,111.69 518.19,111.56 518.65,111.43 519.10,111.43 519.56,111.42 520.01,111.41 520.47,111.40 520.92,111.40 521.38,111.40 521.83,111.42 522.29,111.45 522.75,111.48 523.20,111.49 523.66,111.49 524.11,111.67 524.57,111.85 525.02,111.77 525.48,111.63 525.93,111.61 526.39,111.68 526.84,111.68 527.30,111.59 527.75,111.52 528.21,111.59 528.66,111.65 529.12,111.54 529.57,111.42 530.03,111.38 530.48,111.36 530.94,111.39 531.40,111.44 531.85,111.48 532.31,111.48 532.76,111.48 533.22,111.50 533.67,111.53 534.13,111.59 534.58,111.65 535.04,111.63 535.49,111.60 535.95,111.61 536.40,111.65 536.86,111.63 537.31,111.54 537.77,111.47 538.22,111.51 538.68,111.56 539.13,111.50 539.59,111.44 540.04,111.42 540.50,111.42"/>
<polyline fill="none" stroke="#f00" stroke-width="1.15" stroke-linejoin="round" points="358.40,171.24 358.86,171.19 359.31,171.14 359.77,171.42 360.22,171.78 360.68,172.07 361.13,172.33 361.59,172.47 362.04,172.45 362.50,172.64 362.95,173.69 363.41,174.72 363.86,174.76 364.32,174.81 364.77,175.14 365.23,175.53 365.68,175.59 366.14,175.45 366.59,175.32 367.05,175.21 367.51,175.21 367.96,175.66 368.42,176.11 368.87,176.14 369.33,176.17 369.78,176.80 370.24,177.58 370.69,177.66 371.15,177.28 371.60,177.23 372.06,177.63 372.51,177.85 372.97,177.32 373.42,176.80 373.88,177.16 374.33,177.51 374.79,177.67 375.24,177.78 375.70,178.04 376.15,178.40 376.61,178.59 377.07,178.55 377.52,178.53 377.98,178.63 378.43,178.73 378.89,179.07 379.34,179.39 379.80,179.56 380.25,179.69 380.71,179.75 381.16,179.76 381.62,179.84 382.07,180.03 382.53,180.20 382.98,180.28 383.44,180.36 383.89,180.37 384.35,180.38 384.80,180.52 385.26,180.68 385.72,180.60 386.17,180.36 386.63,180.44 387.08,181.00 387.54,181.35 387.99,180.91 388.45,180.48 388.90,180.84 389.36,181.19 389.81,181.29 390.27,181.32 390.72,181.46 391.18,181.67 391.63,181.72 392.09,181.52 392.54,181.38 393.00,181.44 393.45,181.50 393.91,181.45 394.36,181.40 394.82,181.53 395.28,181.69 395.73,181.70 396.19,181.60 396.64,181.41 397.10,181.10 397.55,180.89 397.55,180.89 397.64,180.95 397.73,181.00 397.82,181.05 397.92,181.10 398.01,181.15 398.01,181.15 398.10,181.19 398.19,181.24 398.28,181.29 398.37,181.34 398.46,181.38 398.46,181.38 398.55,181.41 398.64,181.44 398.74,181.47 398.83,181.50 398.92,181.53 398.92,181.53 399.01,181.56 399.10,181.58 399.19,181.61 399.28,181.63 399.37,181.65 399.37,181.65 399.46,181.68 399.55,181.61 399.65,181.54 399.74,181.46 399.83,181.39 399.83,181.39 399.92,181.32 400.01,181.24 400.10,181.16 400.19,181.09 400.28,181.01 400.28,181.01 400.37,180.93 400.47,180.84 400.56,180.85 400.65,180.85 400.74,180.86 400.74,180.86 400.83,180.85 400.92,180.85 401.01,180.84 401.10,180.82 401.19,180.79 401.19,180.79 401.28,180.76 401.38,180.72 401.47,180.67 401.56,180.54 401.65,180.40 401.65,180.40 401.74,180.24 401.83,180.06 401.92,179.86 402.01,179.62 402.10,179.36 402.10,179.36 402.20,179.06 402.29,178.71 402.38,178.32 402.47,177.87 402.56,177.39 402.56,177.39 402.65,176.84 402.74,176.22 402.83,175.52 402.92,174.72 403.01,173.84 403.01,173.84 403.11,172.85 403.20,171.76 403.29,170.57 403.38,169.26 403.47,167.84 403.47,167.84 403.56,166.35 403.65,164.75 403.74,163.05 403.83,161.26 403.93,159.38 403.93,159.38 404.02,157.44 404.11,155.44 404.20,153.41 404.29,151.37 404.38,149.34 404.38,149.34 404.47,147.36 404.56,145.46 404.65,143.68 404.74,142.04 404.84,140.58 404.84,140.58 404.93,139.33 405.02,138.33 405.11,137.61 405.20,137.19 405.29,137.09 405.29,137.09 405.38,137.31 405.47,137.84 405.56,138.57 405.65,139.58 405.75,140.84 405.75,140.84 405.84,142.31 405.93,143.96 406.02,145.75 406.11,147.66 406.20,149.63 406.20,149.63 406.29,151.65 406.38,153.68 406.47,155.71 406.57,157.72 406.66,159.68 406.66,159.68 406.75,161.57 406.84,163.38 406.93,165.09 407.02,166.71 407.11,168.22 407.11,168.22 407.20,169.62 407.29,170.90 407.38,172.08 407.48,173.15 407.57,174.18 407.57,174.18 407.66,175.11 407.75,175.94 407.84,176.69 407.93,177.35 408.02,177.95 408.02,177.95 408.11,178.47 408.20,178.93 408.30,179.34 408.39,179.70 408.48,180.02 408.48,180.02 408.57,180.25 408.66,180.44 408.75,180.60 408.84,180.74 408.93,180.86 408.93,180.86 409.02,180.96 409.11,181.04 409.21,181.12 409.30,181.18 409.39,181.24 409.39,181.24 409.48,181.28 409.57,181.33 409.66,181.37 409.75,181.41 409.84,181.45 409.84,181.45 409.93,181.48 410.03,181.51 410.12,181.53 410.21,181.56 410.30,181.58 410.30,181.58 410.39,181.59 410.48,181.61 410.57,181.70 410.66,181.78 410.75,181.86 410.75,181.86 410.84,181.94 410.94,182.01 411.03,182.09 411.12,182.17 411.21,182.24 411.21,182.24 411.30,182.32 411.39,182.39 411.48,182.46 411.57,182.42 411.66,182.38 411.66,182.38 411.76,182.35 411.85,182.31 411.94,182.27 412.03,182.23 412.12,182.19 412.12,182.19 412.21,182.15 412.30,182.10 412.39,182.06 412.48,182.02 412.57,182.02 412.57,182.02 412.67,182.02 412.76,182.03 412.85,182.03 412.94,182.03 413.03,182.03 413.03,182.03 413.12,182.03 413.21,182.03 413.30,182.03 413.39,182.02 413.49,182.02 413.49,182.02 413.58,182.05 413.67,182.08 413.76,182.11 413.85,182.13 413.94,182.16 413.94,182.16 414.03,182.19 414.12,182.22 414.21,182.24 414.30,182.27 414.40,182.29 414.40,182.29 414.49,182.32 414.58,182.32 414.67,182.33 414.76,182.33 414.85,182.34 414.85,182.34 414.94,182.34 415.03,182.35 415.12,182.35 415.22,182.35 415.31,182.36 415.31,182.36 415.40,182.36 415.49,182.36 415.58,182.37 415.67,182.38 415.76,182.38 415.76,182.38 415.85,182.39 415.94,182.40 416.03,182.40 416.13,182.41 416.22,182.42 416.22,182.42 416.31,182.42 416.40,182.43 416.49,182.43 416.58,182.40 416.67,182.37 416.67,182.37 416.76,182.33 416.85,182.30 416.95,182.26 417.04,182.23 417.13,182.19 417.13,182.19 417.22,182.16 417.31,182.12 417.40,182.09 417.49,182.05 417.58,182.12 417.58,182.12 417.67,182.18 417.76,182.24 417.86,182.31 417.95,182.37 418.04,182.43 418.04,182.43 418.13,182.49 418.22,182.55 418.31,182.61 418.40,182.67 418.49,182.73 418.49,182.73 418.58,182.73 418.68,182.73 418.77,182.73 418.86,182.72 418.95,182.72 418.95,182.72 419.04,182.71 419.13,182.71 419.22,182.70 419.31,182.69 419.40,182.68 419.40,182.68 419.49,182.67 419.59,182.63 419.68,182.60 419.77,182.56 419.86,182.52 419.86,182.52 419.95,182.47 420.04,182.43 420.13,182.38 420.22,182.34 420.31,182.29 420.31,182.29 420.41,182.24 420.50,182.19 420.59,182.20 420.68,182.20 420.77,182.21 420.77,182.21 420.86,182.21 420.95,182.22 421.04,182.22 421.13,182.21 421.22,182.21 421.22,182.21 421.32,182.20 421.41,182.19 421.50,182.18 421.59,182.14 421.68,182.10 421.68,182.10 421.77,182.05 421.86,182.00 421.95,181.95 422.04,181.90 422.14,181.85 422.59,181.52 423.05,181.00 423.50,180.49 423.96,179.93 424.41,179.48 424.87,179.32 425.32,179.37 425.78,179.79 426.23,180.45 426.69,181.08 427.14,181.58 427.60,182.01 428.05,182.17 428.51,182.28 428.96,182.55 429.42,182.77 429.87,182.94 430.33,183.06 430.78,183.11 431.24,183.09 431.70,183.06 432.15,183.04 432.61,183.04 433.06,183.23 433.52,183.40 433.97,183.37 434.43,183.34 434.88,183.55 435.34,183.81 435.79,183.94 436.25,183.97 436.70,183.91 437.16,183.72 437.61,183.57 438.07,183.52 438.52,183.47 438.98,183.48 439.43,183.48 439.89,183.51 440.35,183.54 440.80,183.54 441.26,183.52 441.71,183.52 442.17,183.52 442.62,183.60 443.08,183.96 443.53,184.33 443.99,184.19 444.44,184.06 444.90,183.91 445.35,183.75 445.81,183.69 446.26,183.67 446.72,183.78 447.17,184.08 447.63,184.24 448.08,183.88 448.54,183.53 448.99,183.75 449.45,183.97 449.91,184.00 450.36,183.98 450.82,183.93 451.27,183.87 451.73,183.81 452.18,183.75 452.64,183.77 453.09,184.06 453.55,184.36 454.00,184.04 454.46,183.72 454.91,183.76 455.37,183.89 455.82,184.01 456.28,184.12 456.73,184.17 457.19,184.11 457.64,184.11 458.10,184.37 458.56,184.62 459.01,184.42 459.47,184.22 459.92,184.10 460.38,183.99 460.83,184.02 461.29,184.15 461.74,184.20 462.20,184.15 462.65,184.11 463.11,184.09 463.56,184.07 464.02,184.05 464.47,184.03 464.93,183.92 465.38,183.80 465.84,183.84 466.29,183.97 466.75,184.07 467.20,184.10 467.66,184.11 468.12,184.01 468.57,183.91 469.03,183.72 469.48,183.52 469.94,183.73 470.39,184.05 470.85,184.11 471.30,184.00 471.76,184.05 472.21,184.32 472.67,184.46 473.12,184.09 473.58,183.72 474.03,183.81 474.49,183.90 474.94,183.85 475.40,183.77 475.85,183.84 476.31,184.02 476.77,184.18 477.22,184.30 477.68,184.36 478.13,184.11 478.59,183.87 479.04,183.89 479.50,183.91 479.95,184.08 480.41,184.29 480.86,184.42 481.32,184.49 481.77,184.44 482.23,184.20 482.68,184.03 483.14,184.11 483.59,184.19 484.05,183.84 484.50,183.50 484.96,183.75 485.41,184.16 485.87,184.31 486.33,184.30 486.78,184.28 487.24,184.23 487.69,184.23 488.15,184.42 488.60,184.62 489.06,184.52 489.51,184.43 489.97,184.16 490.42,183.84 490.88,183.85 491.33,184.07 491.79,184.23 492.24,184.29 492.70,184.36 493.15,184.44 493.61,184.53 494.06,184.30 494.52,184.07 494.98,184.02 495.43,184.01 495.89,184.04 496.34,184.09 496.80,184.15 497.25,184.23 497.71,184.28 498.16,184.20 498.62,184.11 499.07,184.10 499.53,184.10 499.98,184.20 500.44,184.33 500.89,184.29 501.35,184.13 501.80,184.17 502.26,184.51 502.71,184.76 503.17,184.66 503.62,184.56 504.08,184.44 504.54,184.32 504.99,184.27 505.45,184.25 505.90,184.32 506.36,184.44 506.81,184.43 507.27,184.22 507.72,184.00 508.18,183.80 508.63,183.54 509.09,183.38 509.54,183.15 510.00,182.86 510.45,182.58 510.91,182.33 511.36,182.17 511.82,182.23 512.27,182.50 512.73,182.89 513.19,183.41 513.64,183.90 514.10,184.03 514.55,184.07 515.01,184.00 515.46,183.84 515.92,183.90 516.37,184.08 516.83,184.01 517.28,183.59 517.74,183.15 518.19,182.85 518.65,182.59 519.10,182.44 519.56,182.45 520.01,182.59 520.47,182.87 520.92,183.14 521.38,183.36 521.83,183.58 522.29,183.80 522.75,183.95 523.20,184.06 523.66,184.12 524.11,184.36 524.57,184.59 525.02,184.52 525.48,184.39 525.93,184.29 526.39,184.21 526.84,184.14 527.30,184.06 527.75,184.01 528.21,184.05 528.66,184.08 529.12,184.06 529.57,184.04 530.03,184.02 530.48,183.98 530.94,183.99 531.40,184.03 531.85,184.13 532.31,184.33 532.76,184.46 533.22,184.36 533.67,184.25 534.13,184.35 534.58,184.44 535.04,184.62 535.49,184.82 535.95,184.85 536.40,184.77 536.86,184.54 537.31,184.08 537.77,183.80 538.22,184.19 538.68,184.57 539.13,184.71 539.59,184.85 540.04,184.87 540.50,184.87"/>
<polyline fill="none" stroke="#00f" stroke-width="1.15" stroke-linejoin="round" points="358.40,249.25 358.86,250.14 359.31,251.04 359.77,250.73 360.22,250.12 360.68,250.01 361.13,250.22 361.59,250.30 362.04,250.15 362.50,250.08 362.95,250.30 363.41,250.52 363.86,250.35 364.32,250.17 364.77,250.42 365.23,250.78 365.68,251.02 366.14,251.17 366.59,251.21 367.05,251.09 367.51,251.00 367.96,251.08 368.42,251.16 368.87,251.35 369.33,251.54 369.78,251.61 370.24,251.64 370.69,251.59 371.15,251.48 371.60,251.44 372.06,251.49 372.51,251.58 372.97,251.83 373.42,252.09 373.88,252.11 374.33,252.14 374.79,252.38 375.24,252.67 375.70,252.46 376.15,251.92 376.61,251.74 377.07,252.10 377.52,252.35 377.98,252.13 378.43,251.91 378.89,252.11 379.34,252.30 379.80,252.17 380.25,251.95 380.71,251.93 381.16,252.04 381.62,252.20 382.07,252.45 382.53,252.61 382.98,252.45 383.44,252.29 383.89,252.74 384.35,253.18 384.80,253.00 385.26,252.66 385.72,252.82 386.17,253.31 386.63,253.50 387.08,253.22 387.54,252.98 387.99,252.89 388.45,252.80 388.90,252.97 389.36,253.13 389.81,253.27 390.27,253.39 390.72,253.50 391.18,253.59 391.63,253.63 392.09,253.57 392.54,253.47 393.00,253.25 393.45,253.03 393.91,253.07 394.36,253.10 394.82,253.27 395.28,253.46 395.73,253.64 396.19,253.80 396.64,253.75 397.10,253.41 397.55,253.19 397.55,253.19 397.64,253.26 397.73,253.32 397.82,253.39 397.92,253.45 398.01,253.51 398.01,253.51 398.10,253.58 398.19,253.64 398.28,253.70 398.37,253.76 398.46,253.82 398.46,253.82 398.55,253.78 398.64,253.73 398.74,253.69 398.83,253.64 398.92,253.60 398.92,253.60 399.01,253.55 399.10,253.51 399.19,253.46 399.28,253.41 399.37,253.36 399.37,253.36 399.46,253.31 399.55,253.29 399.65,253.28 399.74,253.26 399.83,253.25 399.83,253.25 399.92,253.23 400.01,253.21 400.10,253.19 400.19,253.16 400.28,253.14 400.28,253.14 400.37,253.11 400.47,253.08 400.56,253.00 400.65,252.91 400.74,252.81 400.74,252.81 400.83,252.72 400.92,252.62 401.01,252.52 401.10,252.41 401.19,252.30 401.19,252.30 401.28,252.19 401.38,252.07 401.47,251.94 401.56,251.87 401.65,251.79 401.65,251.79 401.74,251.69 401.83,251.59 401.92,251.47 402.01,251.33 402.10,251.17 402.10,251.17 402.20,250.99 402.29,250.78 402.38,250.54 402.47,250.26 402.56,249.91 402.56,249.91 402.65,249.52 402.74,249.07 402.83,248.56 402.92,247.98 403.01,247.32 403.01,247.32 403.11,246.58 403.20,245.75 403.29,244.82 403.38,243.78 403.47,242.62 403.47,242.62 403.56,241.36 403.65,239.97 403.74,238.44 403.83,236.78 403.93,234.98 403.93,234.98 404.02,233.04 404.11,230.97 404.20,228.77 404.29,226.44 404.38,223.99 404.38,223.99 404.47,221.44 404.56,218.84 404.65,216.16 404.74,213.44 404.84,210.71 404.84,210.71 404.93,207.98 405.02,205.29 405.11,202.68 405.20,200.19 405.29,197.85 405.29,197.85 405.38,195.71 405.47,193.81 405.56,192.12 405.65,190.76 405.75,189.75 405.75,189.75 405.84,189.11 405.93,188.88 406.02,189.04 406.11,189.60 406.20,190.54 406.20,190.54 406.29,191.83 406.38,193.45 406.47,195.35 406.57,197.50 406.66,199.85 406.66,199.85 406.75,202.35 406.84,204.97 406.93,207.67 407.02,210.41 407.11,213.16 407.11,213.16 407.20,215.89 407.29,218.58 407.38,221.19 407.48,223.73 407.57,226.23 407.57,226.23 407.66,228.63 407.75,230.90 407.84,233.04 407.93,235.04 408.02,236.90 408.02,236.90 408.11,238.63 408.20,240.21 408.30,241.67 408.39,243.00 408.48,244.20 408.48,244.20 408.57,245.22 408.66,246.13 408.75,246.94 408.84,247.66 408.93,248.30 408.93,248.30 409.02,248.86 409.11,249.35 409.21,249.77 409.30,250.15 409.39,250.47 409.39,250.47 409.48,250.76 409.57,251.05 409.66,251.31 409.75,251.55 409.84,251.76 409.84,251.76 409.93,251.94 410.03,252.12 410.12,252.27 410.21,252.41 410.30,252.55 410.30,252.55 410.39,252.67 410.48,252.78 410.57,252.82 410.66,252.86 410.75,252.89 410.75,252.89 410.84,252.92 410.94,252.94 411.03,252.96 411.12,252.97 411.21,252.99 411.21,252.99 411.30,253.00 411.39,253.00 411.48,253.01 411.57,253.06 411.66,253.12 411.66,253.12 411.76,253.17 411.85,253.22 411.94,253.26 412.03,253.31 412.12,253.36 412.12,253.36 412.21,253.40 412.30,253.44 412.39,253.48 412.48,253.52 412.57,253.55 412.57,253.55 412.67,253.57 412.76,253.58 412.85,253.60 412.94,253.62 413.03,253.64 413.03,253.64 413.12,253.65 413.21,253.67 413.30,253.68 413.39,253.69 413.49,253.71 413.49,253.71 413.58,253.74 413.67,253.78 413.76,253.82 413.85,253.85 413.94,253.89 413.94,253.89 414.03,253.92 414.12,253.96 414.21,253.99 414.30,254.02 414.40,254.06 414.40,254.06 414.49,254.09 414.58,254.06 414.67,254.03 414.76,254.00 414.85,253.97 414.85,253.97 414.94,253.94 415.03,253.91 415.12,253.88 415.22,253.85 415.31,253.82 415.31,253.82 415.40,253.79 415.49,253.75 415.58,253.83 415.67,253.91 415.76,253.99 415.76,253.99 415.85,254.07 415.94,254.14 416.03,254.22 416.13,254.30 416.22,254.38 416.22,254.38 416.31,254.45 416.40,254.53 416.49,254.61 416.58,254.61 416.67,254.62 416.67,254.62 416.76,254.63 416.85,254.64 416.95,254.64 417.04,254.65 417.13,254.66 417.13,254.66 417.22,254.66 417.31,254.67 417.40,254.68 417.49,254.68 417.58,254.70 417.58,254.70 417.67,254.72 417.76,254.73 417.86,254.75 417.95,254.76 418.04,254.78 418.04,254.78 418.13,254.79 418.22,254.81 418.31,254.82 418.40,254.84 418.49,254.85 418.49,254.85 418.58,254.81 418.68,254.78 418.77,254.74 418.86,254.71 418.95,254.67 418.95,254.67 419.04,254.64 419.13,254.60 419.22,254.56 419.31,254.53 419.40,254.49 419.40,254.49 419.49,254.45 419.59,254.50 419.68,254.54 419.77,254.59 419.86,254.63 419.86,254.63 419.95,254.68 420.04,254.72 420.13,254.76 420.22,254.81 420.31,254.85 420.31,254.85 420.41,254.89 420.50,254.94 420.59,254.94 420.68,254.94 420.77,254.94 420.77,254.94 420.86,254.94 420.95,254.94 421.04,254.94 421.13,254.94 421.22,254.93 421.22,254.93 421.32,254.93 421.41,254.93 421.50,254.93 421.59,254.88 421.68,254.83 421.68,254.83 421.77,254.77 421.86,254.72 421.95,254.67 422.04,254.61 422.14,254.56 422.59,254.31 423.05,254.17 423.50,254.01 423.96,254.01 424.41,253.99 424.87,254.33 425.32,254.77 425.78,254.73 426.23,254.40 426.69,254.24 427.14,254.33 427.60,254.47 428.05,254.63 428.51,254.81 428.96,254.82 429.42,254.83 429.87,254.63 430.33,254.37 430.78,254.52 431.24,254.96 431.70,255.26 432.15,255.39 432.61,255.44 433.06,255.23 433.52,255.02 433.97,255.15 434.43,255.28 434.88,255.31 435.34,255.32 435.79,255.42 436.25,255.57 436.70,255.62 437.16,255.52 437.61,255.43 438.07,255.37 438.52,255.31 438.98,255.72 439.43,256.13 439.89,256.18 440.35,256.14 440.80,255.86 441.26,255.42 441.71,255.17 442.17,255.22 442.62,255.31 443.08,255.55 443.53,255.79 443.99,255.89 444.44,255.98 444.90,255.90 445.35,255.77 445.81,255.82 446.26,256.00 446.72,256.06 447.17,255.92 447.63,255.75 448.08,255.42 448.54,255.10 448.99,255.36 449.45,255.63 449.91,255.55 450.36,255.38 450.82,255.46 451.27,255.70 451.73,255.81 452.18,255.72 452.64,255.61 453.09,255.45 453.55,255.28 454.00,255.75 454.46,256.22 454.91,256.18 455.37,256.02 455.82,255.95 456.28,255.92 456.73,255.88 457.19,255.81 457.64,255.72 458.10,255.51 458.56,255.30 459.01,255.45 459.47,255.61 459.92,255.94 460.38,256.31 460.83,256.34 461.29,256.14 461.74,256.06 462.20,256.18 462.65,256.27 463.11,256.28 463.56,256.29 464.02,255.80 464.47,255.31 464.93,255.63 465.38,256.15 465.84,256.24 466.29,256.02 466.75,255.96 467.20,256.13 467.66,256.21 468.12,255.95 468.57,255.69 469.03,255.78 469.48,255.87 469.94,255.92 470.39,255.96 470.85,256.00 471.30,256.04 471.76,255.99 472.21,255.79 472.67,255.70 473.12,256.05 473.58,256.40 474.03,256.37 474.49,256.34 474.94,256.39 475.40,256.46 475.85,256.25 476.31,255.84 476.77,255.70 477.22,255.98 477.68,256.23 478.13,256.36 478.59,256.49 479.04,256.39 479.50,256.29 479.95,255.88 480.41,255.39 480.86,255.46 481.32,255.91 481.77,256.11 482.23,255.95 482.68,255.84 483.14,255.91 483.59,255.97 484.05,256.06 484.50,256.14 484.96,256.25 485.41,256.37 485.87,256.38 486.33,256.33 486.78,256.30 487.24,256.30 487.69,256.37 488.15,256.69 488.60,257.00 489.06,256.20 489.51,255.39 489.97,255.46 490.42,255.74 490.88,255.94 491.33,256.08 491.79,256.18 492.24,256.24 492.70,256.31 493.15,256.41 493.61,256.51 494.06,256.22 494.52,255.93 494.98,256.02 495.43,256.22 495.89,256.23 496.34,256.12 496.80,256.18 497.25,256.50 497.71,256.69 498.16,256.40 498.62,256.10 499.07,255.83 499.53,255.56 499.98,255.82 500.44,256.21 500.89,256.25 501.35,256.07 501.80,256.02 502.26,256.15 502.71,256.22 503.17,256.04 503.62,255.86 504.08,255.87 504.54,255.88 504.99,256.02 505.45,256.19 505.90,256.32 506.36,256.43 506.81,256.43 507.27,256.29 507.72,256.18 508.18,256.21 508.63,256.21 509.09,256.24 509.54,256.17 510.00,255.74 510.45,255.09 510.91,254.40 511.36,253.73 511.82,253.25 512.27,253.15 512.73,253.34 513.19,253.60 513.64,254.08 514.10,254.24 514.55,254.33 515.01,254.95 515.46,255.58 515.92,255.93 516.37,256.09 516.83,255.93 517.28,255.33 517.74,254.77 518.19,254.77 518.65,254.63 519.10,254.30 519.56,254.11 520.01,253.85 520.47,253.86 520.92,254.23 521.38,254.80 521.83,255.31 522.29,255.57 522.75,255.71 523.20,255.82 523.66,255.78 524.11,256.25 524.57,256.59 525.02,255.92 525.48,254.91 525.93,254.40 526.39,254.33 526.84,254.17 527.30,253.89 527.75,253.93 528.21,254.35 528.66,254.84 529.12,255.32 529.57,255.70 530.03,256.00 530.48,256.21 530.94,256.30 531.40,256.30 531.85,256.38 532.31,256.61 532.76,256.74 533.22,256.50 533.67,256.27 534.13,256.15 534.58,256.03 535.04,256.02 535.49,256.03 535.95,255.86 536.40,255.58 536.86,255.51 537.31,255.77 537.77,255.99 538.22,256.05 538.68,256.11 539.13,255.95 539.59,255.80 540.04,255.77 540.50,255.77"/>
<line x1="428" y1="66" x2="456.3" y2="66" stroke="#555" stroke-width="1.8"/>
<text x="459.31" y="70.0" font-size="12" fill="#111" textLength="69.52" lengthAdjust="spacingAndGlyphs">PC substrate</text>
<line x1="426.1" y1="151.5" x2="454.1" y2="151.5" stroke="#f00" stroke-width="1.3"/>
<text x="457.26" y="155.4" font-size="12" fill="#111" textLength="42.63" lengthAdjust="spacingAndGlyphs">Si wafer</text>
<line x1="428" y1="214.7" x2="456.1" y2="214.7" stroke="#33f" stroke-width="1.4"/>
<text x="459.29" y="218.6" font-size="12" fill="#111" textLength="83.84" lengthAdjust="spacingAndGlyphs">Glass substrate</text>
<text transform="translate(323.0,182.32) rotate(-90)" font-size="12.5" fill="#111" textLength="83.94" lengthAdjust="spacingAndGlyphs">Intensity (a.u.)</text>
<text x="405.35" y="289.7" font-size="13" fill="#111">2</text>
<text x="412.99" y="289.9" font-size="13" font-family="Liberation Serif" fill="#111">θ</text>
<text x="422.56" y="289.8" font-size="13.6" fill="#111">(</text>
<text x="427.85" y="289.6" font-size="13" fill="#111" textLength="41.04" lengthAdjust="spacingAndGlyphs">degree</text>
<text x="470.12" y="289.7" font-size="13.2" fill="#111">)</text>
<text x="422.1" y="342.3" font-size="10.8" font-family="Liberation Serif" fill="#111">(</text>
<text x="426.2" y="342.3" font-size="10.8" font-family="Liberation Serif" font-weight="bold" fill="#111">b</text>
<text x="432.9" y="342.3" font-size="10.8" font-family="Liberation Serif" fill="#111">)</text>
</svg>
</body></html>
